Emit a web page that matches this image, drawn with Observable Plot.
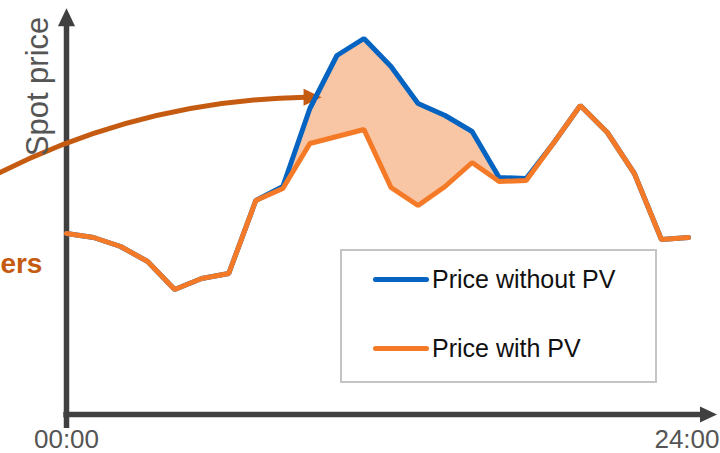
<!DOCTYPE html>
<html>
<head>
<meta charset="utf-8">
<script src="https://cdn.jsdelivr.net/npm/d3@7"></script>
<script src="https://cdn.jsdelivr.net/npm/@observablehq/plot@0.6"></script>
<style>
  html, body { margin: 0; padding: 0; background: #fff; }
  #wrap { position: relative; width: 720px; height: 453px; overflow: hidden; font-family: "Liberation Sans", Arial, sans-serif; }
  #legend { position: absolute; left: 340px; top: 249px; width: 317px; height: 134px; border: 2px solid #c4c4c4; box-sizing: border-box; background: #fff; }
  .item { position: absolute; left: 31px; display: flex; align-items: center; font-size: 25px; color: #111; }
  .sw { width: 56px; height: 5px; border-radius: 3px; margin-right: 3px; }
</style>
</head>
<body>
<div id="wrap"></div>
<script>
// ---- data (hour of day, relative spot price) ----
const hours = [0,1,2,3,4,5,6,7,8,9,10,11,12,13,14,15,16,17,18,19,20,21,22,23];
const priceWithPV = [44.75,43.75,41.5,37.75,30.75,33.5,34.75,53,56,67.25,69,70.75,56.25,51.75,56.5,62.5,57.75,58,67.25,76.75,70,59.75,43.25,43.75];
const priceWithoutPV = [44.75,43.75,41.5,37.75,30.75,33.5,34.75,53,56.5,76,89.25,93.5,86.5,77.25,74.25,70.25,58.75,58.5,67.25,76.75,70,59.75,43.25,43.75];
const seriesNames = ["Price without PV", "Price with PV"];
const seriesColors = ["#0563C1", "#F47A28"];
const xTickLabels = ["00:00", "24:00"];
const yAxisLabel = "Spot price";
const sideLabel = "ers";

const rows = hours.map((h, i) => ({h, with: priceWithPV[i], without: priceWithoutPV[i]}));

const axisColor = "#404040";
const arrowColor = "#C55A11";

// custom filled triangle symbols
const triRight = {draw(ctx, size) { const r = Math.sqrt(size / Math.PI); ctx.moveTo(r, 0); ctx.lineTo(-r, -r * 0.95); ctx.lineTo(-r, r * 0.95); ctx.closePath(); }};
const triUp = {draw(ctx, size) { const r = Math.sqrt(size / Math.PI); ctx.moveTo(0, -r); ctx.lineTo(r * 0.95, r); ctx.lineTo(-r * 0.95, r); ctx.closePath(); }};

const chart = Plot.plot({
  width: 720,
  height: 453,
  marginLeft: 66,
  marginRight: 5,
  marginTop: 12,
  marginBottom: 41,
  x: {domain: [0, 24], axis: null},
  y: {domain: [0, 100], axis: null},
  style: {fontFamily: "'Liberation Sans', Arial, sans-serif", background: "#fff", overflow: "visible"},
  marks: [
    Plot.areaY(rows, {x: "h", y1: "with", y2: "without", fill: "#F9C6A5"}),
    // axes
    Plot.ruleX([0], {y1: -4, y2: 97, stroke: axisColor, strokeWidth: 5.5}),
    Plot.ruleY([-0.5], {x1: -0.1, x2: 23.5, stroke: axisColor, strokeWidth: 5.5}),
    Plot.dot([{x: 0, y: 98.8}], {x: "x", y: "y", symbol: triUp, r: 9, fill: axisColor, stroke: null}),
    Plot.dot([{x: 23.74, y: -0.5}], {x: "x", y: "y", symbol: triRight, r: 8.5, fill: axisColor, stroke: null}),
    // curved annotation arrow
    Plot.arrow([{x1: -2.6, y1: 59.5, x2: 8.85, y2: 78.8}], {x1: "x1", y1: "y1", x2: "x2", y2: "y2", bend: 13, headLength: 0, stroke: arrowColor, strokeWidth: 5}),
    Plot.dot([{x: 9.1, y: 78.8}], {x: "x", y: "y", symbol: triRight, r: 9, fill: arrowColor, stroke: null}),
    // lines
    Plot.line(rows, {x: "h", y: "without", stroke: seriesColors[0], strokeWidth: 5, strokeLinejoin: "miter"}),
    Plot.line(rows, {x: "h", y: "with", stroke: seriesColors[1], strokeWidth: 5, strokeLinejoin: "miter"}),
    // texts
    Plot.text([xTickLabels[0]], {x: 0, y: -6.7, text: d => d, fontSize: 26, fill: "#555", textAnchor: "middle"}),
    Plot.text([xTickLabels[1]], {x: 24, y: -6.7, dx: 4, text: d => d, fontSize: 26, fill: "#555", textAnchor: "end"}),
    Plot.text([yAxisLabel], {x: -1.05, y: 81.5, text: d => d, fontSize: 31, fill: "#555", rotate: -90, textAnchor: "middle"}),
    Plot.text([sideLabel], {x: -0.89, y: 37.2, text: d => d, fontSize: 28, fontWeight: "bold", fill: arrowColor, textAnchor: "end"})
  ]
});

const wrap = document.getElementById("wrap");
wrap.appendChild(chart);

const legend = document.createElement("div");
legend.id = "legend";
seriesNames.forEach((name, i) => {
  const item = document.createElement("div");
  item.className = "item";
  item.style.top = (i === 0 ? 14 : 83) + "px";
  const sw = document.createElement("div");
  sw.className = "sw";
  sw.style.background = seriesColors[i];
  const t = document.createElement("span");
  t.textContent = name;
  item.appendChild(sw);
  item.appendChild(t);
  legend.appendChild(item);
});
wrap.appendChild(legend);
</script>
</body>
</html>
